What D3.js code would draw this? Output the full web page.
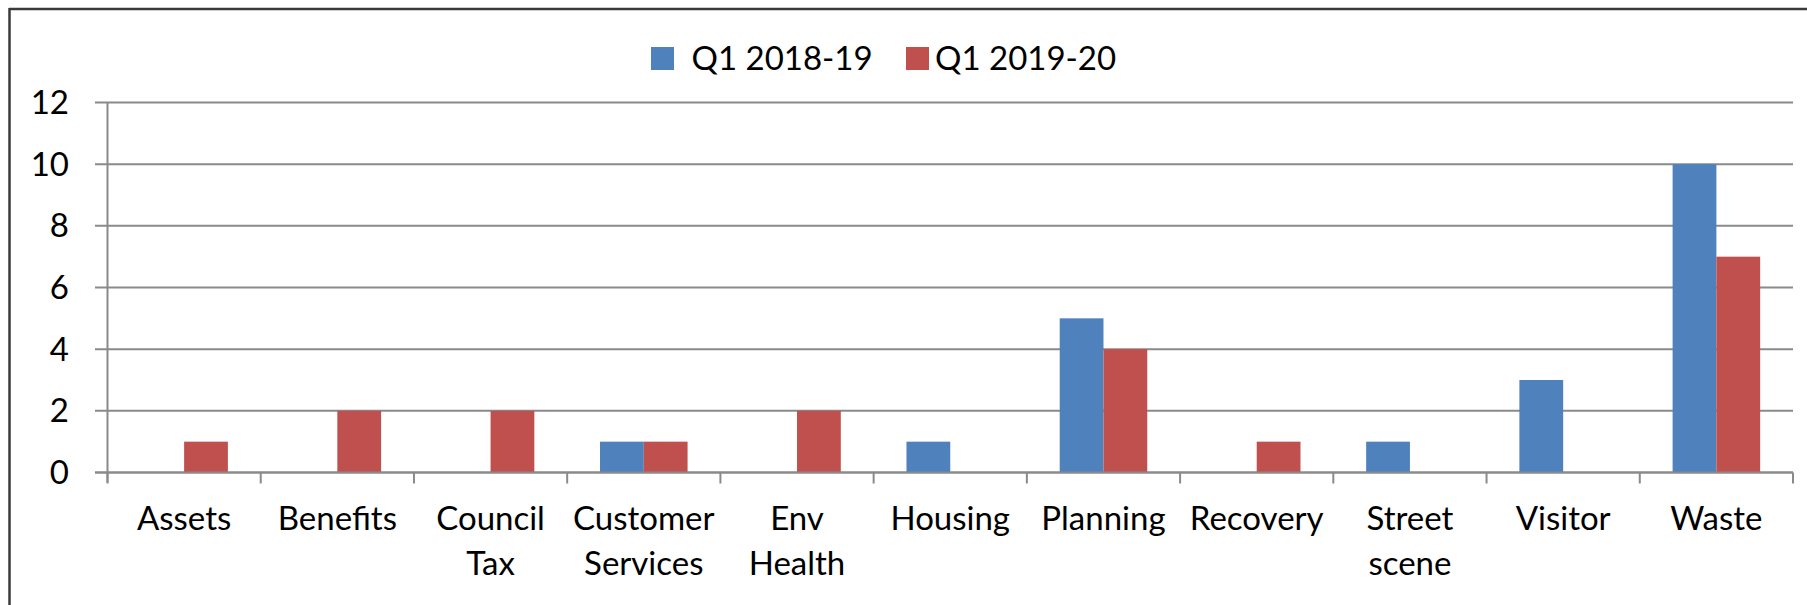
<!DOCTYPE html>
<html><head><meta charset="utf-8">
<script src="https://cdn.jsdelivr.net/npm/d3@7"></script>
<style>
html,body{margin:0;padding:0;background:#fff;}
svg text{font-family:Lato,"Open Sans",sans-serif;fill:#000;}
</style></head>
<body>
<svg id="chart" width="1807" height="605"></svg>
<script>
const categories = ["Assets","Benefits","Council Tax","Customer Services","Env Health","Housing","Planning","Recovery","Street scene","Visitor","Waste"];
const categoryLines = [["Assets"],["Benefits"],["Council","Tax"],["Customer","Services"],["Env","Health"],["Housing"],["Planning"],["Recovery"],["Street","scene"],["Visitor"],["Waste"]];
const seriesNames = ["Q1 2018-19","Q1 2019-20"];
const q1_2018_19 = [0,0,0,1,0,1,5,0,1,3,10];
const q1_2019_20 = [1,2,2,1,2,0,4,1,0,0,7];
const yTicks = [0,2,4,6,8,10,12];
const colors = ["#4F81BD","#C0504D"];

(function(){
const svg = d3.select("#chart");
const fontSize = 33;
const pL = 107.5, pR = 1793, pT = 102.5, pB = 472.5;

// outer frame (top and left edges visible)
svg.append("line").attr("x1",9).attr("x2",1807).attr("y1",9).attr("y2",9).attr("stroke","#3a3a3a").attr("stroke-width",2.5);
svg.append("line").attr("x1",9.5).attr("x2",9.5).attr("y1",8).attr("y2",605).attr("stroke","#3a3a3a").attr("stroke-width",2.5);

const x0 = d3.scaleBand().domain(categories).range([pL,pR]).paddingInner(0).paddingOuter(0);
const x1 = d3.scaleBand().domain(seriesNames).range([x0.bandwidth()*0.2143, x0.bandwidth()*(1-0.2143)]);
const y = d3.scaleLinear().domain([0,12]).range([pB,pT]);

// gridlines
svg.append("g").selectAll("line").data(yTicks).join("line")
  .attr("x1",pL-12.5).attr("x2",pR).attr("y1",d=>y(d)).attr("y2",d=>y(d))
  .attr("stroke","#8a8a8a").attr("stroke-width",2);

// y axis line
svg.append("line").attr("x1",pL).attr("x2",pL).attr("y1",pT).attr("y2",pB+10)
  .attr("stroke","#8a8a8a").attr("stroke-width",2);

// x ticks at band boundaries
const bounds = categories.map(c=>x0(c)).concat([pR]);
svg.append("g").selectAll("line").data(bounds).join("line")
  .attr("x1",d=>d).attr("x2",d=>d).attr("y1",pB).attr("y2",pB+11)
  .attr("stroke","#8a8a8a").attr("stroke-width",2);

// bars
const data = categories.map((c,i)=>({c, vals:[q1_2018_19[i], q1_2019_20[i]]}));
const g = svg.append("g");
data.forEach(d=>{
  d.vals.forEach((v,j)=>{
    if(v<=0) return;
    g.append("rect")
      .attr("x", x0(d.c)+x1(seriesNames[j]))
      .attr("width", x1.bandwidth())
      .attr("y", y(v))
      .attr("height", y(0)-y(v))
      .attr("fill", colors[j]);
  });
});
// redraw baseline over bars
svg.append("line").attr("x1",pL-12.5).attr("x2",pR).attr("y1",y(0)).attr("y2",y(0))
  .attr("stroke","#8a8a8a").attr("stroke-width",2);

// y labels
svg.append("g").selectAll("text").data(yTicks).join("text")
  .attr("x",69).attr("y",d=>y(d)+11.5).attr("text-anchor","end")
  .attr("font-size",fontSize).text(d=>d);

// x labels
const xl = svg.append("g");
categories.forEach((c,i)=>{
  const t = xl.append("text").attr("text-anchor","middle").attr("font-size",fontSize)
    .attr("x", x0(c)+x0.bandwidth()/2).attr("y",530);
  categoryLines[i].forEach((ln,k)=>{
    t.append("tspan").attr("x", x0(c)+x0.bandwidth()/2).attr("y",530+k*45).text(ln);
  });
});

// legend
const legend = [{x:651, tx:691.5},{x:906, tx:935}];
seriesNames.forEach((s,j)=>{
  svg.append("rect").attr("x",legend[j].x).attr("y",47).attr("width",23).attr("height",23).attr("fill",colors[j]);
  svg.append("text").attr("x",legend[j].tx).attr("y",70).attr("font-size",fontSize).text(s);
});
})();
</script>
</body></html>
